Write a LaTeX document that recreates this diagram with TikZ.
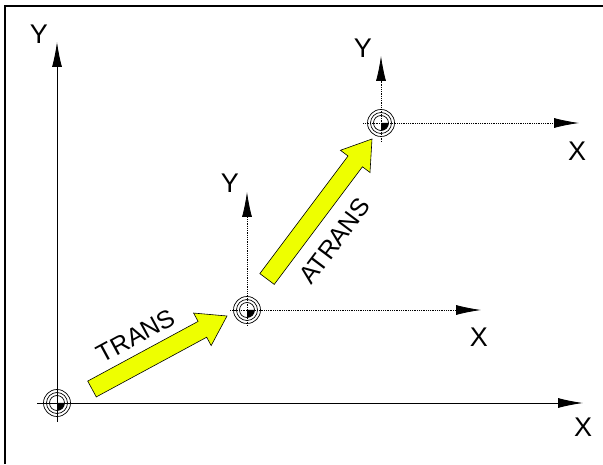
\documentclass[tikz,border=0pt]{standalone}
\usepackage{fontspec}
\setmainfont{Liberation Sans}
\usetikzlibrary{arrows.meta,calc}
\definecolor{shiftyellow}{RGB}{238,255,0}

\tikzset{
  axis/.style={line width=0.9pt,-{Latex[length=25pt,width=10pt]}},
  dotaxis/.style={axis,line width=0.8pt,densely dotted},
  shiftarrow/.style={draw=black,line width=0.6pt,fill=shiftyellow,line join=miter},
  axislabel/.style={font=\fontsize{27}{30}\selectfont,inner sep=0pt},
  shiftlabel/.style={font=\fontsize{25}{28}\selectfont,inner sep=0pt}
}

% fat yellow arrow from #1 to #2
\newcommand{\shiftarrow}[2]{%
  \coordinate (hb) at ($(#2)!28pt!(#1)$);
  \draw[shiftarrow] ($(#1)!9pt!-90:(#2)$) -- ($(hb)!9pt!-90:(#2)$)
    -- ($(hb)!18.5pt!-90:(#2)$) -- (#2) -- ($(hb)!18.5pt!90:(#2)$)
    -- ($(hb)!9pt!90:(#2)$) -- ($(#1)!9pt!90:(#2)$) -- cycle;
}

\begin{document}
\begin{tikzpicture}[x=1pt,y=1pt]
  \useasboundingbox (0,0) rectangle (603,464);
  \fill[white] (0,0) rectangle (603,464);
  \draw[line width=1.5pt] (5,0) -- (5,458) -- (603,458);

  % origins
  \coordinate (o1) at (57,61);
  \coordinate (o2) at (247,154);
  \coordinate (o3) at (381,341);

  % base frame
  \coordinate (y1s) at (57,42);  \coordinate (y1e) at (57,422);
  \coordinate (x1s) at (37,61);  \coordinate (x1e) at (583,61);
  \draw[axis] (y1s) -- (y1e);
  \draw[axis] (x1s) -- (x1e);
  \node[axislabel] (y1) at (39,430) {Y};
  \node[axislabel] (x1) at (583,37) {X};

  % frame after TRANS
  \coordinate (y2s) at (247,138); \coordinate (y2e) at (247,272);
  \coordinate (x2s) at (230,154); \coordinate (x2e) at (481,154);
  \draw[dotaxis] (y2s) -- (y2e);
  \draw[dotaxis] (x2s) -- (x2e);
  \node[axislabel] (y2) at (230,281) {Y};
  \node[axislabel] (x2) at (479,127) {X};

  % frame after ATRANS
  \coordinate (y3s) at (381,322); \coordinate (y3e) at (381,408);
  \coordinate (x3s) at (363,341); \coordinate (x3e) at (579,341);
  \draw[dotaxis] (y3s) -- (y3e);
  \draw[dotaxis] (x3s) -- (x3e);
  \node[axislabel] (y3) at (363,416) {Y};
  \node[axislabel] (x3) at (577,313) {X};

  \foreach \o in {o1,o2,o3} {
    \draw[line width=0.7pt] (\o) circle (13.5pt);
    \draw[line width=0.7pt] (\o) circle (10.5pt);
    \draw[line width=0.7pt] (\o) circle (7.5pt);
    \fill (\o) -- ++(7.5pt,0) arc[start angle=0,end angle=-90,radius=7.5pt] -- cycle;
  }

  % TRANS and ATRANS
  \coordinate (transs) at (92,75);   \coordinate (transe) at (227,148);
  \coordinate (atranss) at (267,185); \coordinate (atranse) at (372,325);
  \shiftarrow{transs}{transe}
  \shiftarrow{atranss}{atranse}
  \node[shiftlabel,rotate=28.4] (trans) at (136,128) {TRANS};
  \node[shiftlabel,rotate=53.1] (atrans) at (335,223) {ATRANS};
\end{tikzpicture}
\end{document}
